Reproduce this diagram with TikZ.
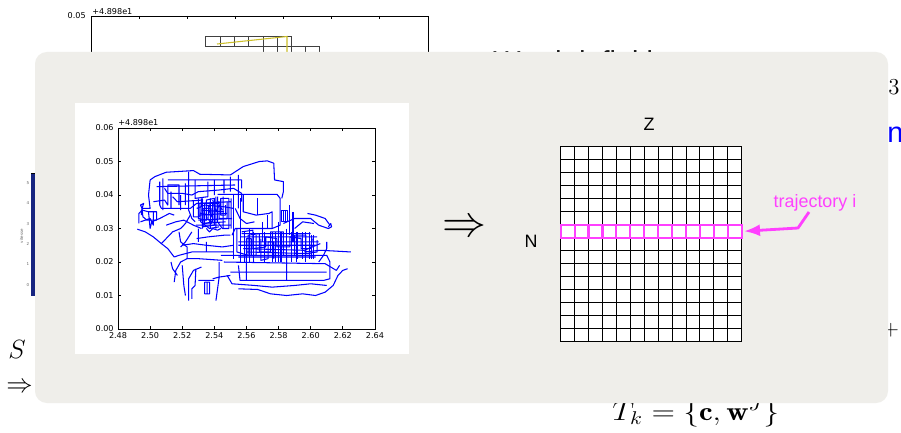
\RequirePackage{fix-cm}
\documentclass[tikz,border=0pt]{standalone}
\usepackage{fontspec}
\usepackage{graphicx}
\usetikzlibrary{arrows.meta}

\newfontfamily\arialfont{Liberation Sans}
\newfontfamily\mplfont{DejaVu Sans}

\definecolor{panelgray}{RGB}{239,238,234}
\definecolor{hotpink}{RGB}{255,64,255}
\definecolor{cbarblue}{RGB}{22,36,128}
\definecolor{pathyellow}{RGB}{204,190,40}
\definecolor{trajblue}{RGB}{0,0,255}

\newcommand{\titlefont}{\arialfont\fontsize{16.4}{19}\selectfont}
\newcommand{\labelfont}{\arialfont\fontsize{10.2}{12}\selectfont}
\newcommand{\mathfont}{\fontsize{15}{18}\selectfont}
\newcommand{\tickfont}{\mplfont\fontsize{4.6}{5.5}\selectfont}
\newcommand{\cbarfont}{\mplfont\fontsize{2.3}{3}\selectfont}

\tikzset{
  traj/.style={draw=trajblue, line width=0.6pt, line join=round},
  plotframe/.style={draw=black, line width=0.45pt},
  ticks/.style={draw=black, line width=0.4pt},
  ticklabel/.style={font=\tickfont, inner sep=0pt},
  gridline/.style={draw=black, line width=0.5pt},
  pinkrow/.style={draw=hotpink, line width=1.2pt},
  pinkarrow/.style={draw=hotpink, line width=1.6pt, line join=round, -{Latex[length=0.32cm,width=0.24cm]}},
}

\begin{document}
\begin{tikzpicture}[x=0.02cm,y=-0.02cm]
\useasboundingbox[fill=white] (0,0) rectangle (901,432);

% slide behind the overlay
\draw[plotframe] (91,120) -- (91,16) -- (428,16) -- (428,120);
\draw[ticks] (139,16) -- (139,19) (187,16) -- (187,19) (235,16) -- (235,19) (283,16) -- (283,19) (331,16) -- (331,19) (379,16) -- (379,19) (91,16) -- (94,16) (428,16) -- (425,16);
\node[ticklabel, anchor=east] (bgy05) at (86,16) {0.05};
\node[ticklabel, anchor=south west] (bgoffset) at (92,14.5) {+4.898e1};
\draw[black!75, line width=0.45pt] (205,36) rectangle (291,46) (263,46) rectangle (319,60);
\draw[black!75, line width=0.45pt] (220,36) -- (220,46) (234,36) -- (234,46) (248,36) -- (248,46) (263,36) -- (263,46) (277,36) -- (277,60) (291,46) -- (291,60) (305,46) -- (305,60);
\draw[pathyellow, line width=0.6pt] (217,44) -- (287,36.5) -- (287,60);

\node[font=\titlefont, anchor=base west, inner sep=0pt] (wordtitle) at (493,72) {Word definition};
\node[font=\fontsize{13}{15}\selectfont, anchor=base west, inner sep=0pt] (supthree) at (888,95) {3};
\node[font=\titlefont, text=trajblue, anchor=base west, inner sep=0pt] (bluen) at (887,142.5) {n};
\node[font=\fontsize{12}{14}\selectfont, inner sep=0pt] (plus) at (891,330) {$+$};
\node[font=\mathfont, anchor=base west, inner sep=0pt] (ssym) at (8,358.5) {$S$};
\node[font=\mathfont, anchor=base west, inner sep=0pt] (leftimp) at (6,392) {$\Rightarrow$};
\node[font=\mathfont, anchor=base west, inner sep=0pt] (tkset) at (612,420.5) {\scalebox{1.17}[1]{$T_k=\{\mathbf{c},\mathbf{w}^J\}$}};

\fill[cbarblue] (31,173) rectangle (38,296);
\draw[black, line width=0.3pt] (31,173) -- (38,173);
\node[font=\cbarfont, text=black!60, inner sep=0pt] (cbfive) at (28,183) {5};
\node[font=\cbarfont, text=black!60, inner sep=0pt] (cbfour) at (28,203) {4};
\node[font=\cbarfont, text=black!60, inner sep=0pt] (cbthree) at (28,224) {3};
\node[font=\cbarfont, text=black!60, inner sep=0pt] (cbtwo) at (28,244) {2};
\node[font=\cbarfont, text=black!60, inner sep=0pt] (cbone) at (28,264) {1};
\node[font=\cbarfont, text=black!60, inner sep=0pt] (cbzero) at (28,285) {0};
\node[font=\cbarfont, text=black!60, inner sep=0pt, rotate=90] (vitesse) at (21.5,236) {vitesse};

% overlay
\fill[panelgray, rounded corners=6.8pt] (35,52) rectangle (888,403);
\fill[white] (75,103) rectangle (408.5,353.5);

\begin{scope}[shift={(118,329)}, x=0.3212cm, y=0.67cm]
\draw[traj] (2.0,4.45) -- (2.3,4.55) -- (3.0,4.68) -- (4.7,4.73) -- (5.1,4.62) -- (7.0,4.6) -- (7.8,4.85) -- (8.8,5.0) -- (9.3,5.02) -- (9.7,4.95) -- (9.75,4.45) -- (10.3,4.4) -- (10.3,4.1) -- (10.2,3.9);
\draw[traj] (2.0,4.45) -- (1.9,4.0) -- (2.0,3.6) -- (1.5,3.6) -- (1.45,3.4);
\draw[traj] (2.6,4.4) -- (2.6,3.7) -- (2.7,3.6) -- (4.5,3.6) -- (4.9,3.75) -- (6.3,3.75);
\draw[traj] (2.9,4.2) -- (3.1,4.05) -- (4.0,4.05) -- (4.6,4.0) -- (5.0,4.1) -- (6.3,4.15) -- (7.2,4.2) -- (7.7,4.05) -- (7.7,3.8);
\draw[traj] (3.1,4.45) -- (7.7,4.45) -- (7.7,4.2) (4.4,4.7) -- (4.4,3.55) -- (4.6,3.3) -- (4.8,3.2) (3.4,3.95) -- (3.7,3.8) -- (5.3,3.85) (7.5,4.6) -- (7.5,3.6);
\draw[traj] (2.2,3.8) -- (2.9,3.85) -- (3.1,3.7) -- (3.1,4.3) -- (3.8,4.3) -- (3.8,3.7) (3.3,4.1) -- (3.3,3.6) (3.9,4.0) -- (3.9,3.55) (4.2,4.35) -- (4.2,3.7);
\draw[traj] (4.8,4.45) -- (4.8,3.9) -- (5.6,3.95) -- (5.6,4.4) (6.0,4.45) -- (6.0,4.0) (6.6,4.45) -- (6.6,4.05) (7.0,4.55) -- (7.0,4.1);
\draw[traj] (2.4,4.25) -- (7.3,4.3) (2.8,3.55) -- (2.8,4.5);
\draw[traj] (1.3,3.15) -- (1.3,3.45) -- (1.5,3.55) -- (1.9,3.5) -- (2.4,3.5) -- (2.4,3.25) -- (1.8,3.25) -- (1.55,3.35) -- (1.5,3.6) -- (1.6,3.75) -- (1.4,3.7) -- (1.5,3.6);
\draw[traj] (1.4,3.2) -- (2.0,3.3) -- (2.2,3.1) -- (2.2,3.5) (1.9,3.5) -- (2.0,3.0) -- (2.1,3.2) -- (2.6,3.3) -- (3.2,3.45) -- (3.5,3.4);
\draw[traj] (1.2,2.98) -- (1.7,2.9) -- (2.2,2.75) -- (2.7,2.55) -- (3.1,2.4) -- (3.5,2.15);
\draw[traj] (2.7,2.55) -- (3.0,2.7) -- (3.4,2.9) -- (3.9,3.0) -- (4.2,3.15) -- (4.5,3.4) (3.0,3.1) -- (3.6,3.2) -- (4.1,3.25) -- (4.7,3.1) -- (5.2,3.0);
\draw[traj] (5.0,3.9) -- (5.0,3.3) -- (5.5,3.25) -- (5.5,3.85) -- (6.0,3.9) -- (6.0,3.1) -- (5.3,3.05) -- (5.3,3.6) -- (5.8,3.6) -- (5.8,3.4) -- (5.1,3.45);
\draw[traj] (5.6,3.7) -- (5.7,3.5) -- (5.9,3.3) -- (5.8,3.15) -- (5.6,3.3) -- (5.65,3.6) -- (5.75,3.75);
\draw[traj] (6.2,3.95) -- (6.2,3.2) -- (6.5,3.0) -- (6.9,3.0) -- (6.9,3.9) -- (6.4,3.9) -- (6.4,3.4) -- (6.7,3.4) -- (6.7,3.7);
\draw[traj] (4.9,3.6) -- (5.4,3.7) -- (6.6,3.65) -- (7.2,3.6) (5.2,3.9) -- (5.15,3.2) -- (5.7,3.0) -- (6.3,3.05) (5.9,3.85) -- (6.1,3.5) -- (6.3,3.7) -- (6.5,3.55);
\draw[traj] (4.7,3.85) -- (4.7,3.35) -- (5.1,3.35) -- (5.1,3.75) -- (5.4,3.75) -- (5.4,3.15) -- (5.9,3.2) -- (5.9,3.75) -- (6.3,3.8) -- (6.3,3.3) -- (6.8,3.3) -- (6.8,3.8);
\draw[traj] (5.2,3.55) -- (6.6,3.5) (5.05,3.4) -- (6.8,3.45) (5.3,3.15) -- (6.7,3.2) (5.5,3.0) -- (5.7,2.9) -- (5.9,3.0) -- (6.2,2.95) -- (6.4,3.0);
\draw[traj] (4.95,3.75) -- (7.0,3.8) (5.0,3.25) -- (7.1,3.3) (4.85,3.1) -- (7.0,3.1) (5.25,3.9) -- (5.25,3.0) (5.75,3.9) -- (5.75,3.0) (6.1,3.95) -- (6.1,3.0) (6.55,3.95) -- (6.55,3.0) (7.05,3.9) -- (7.05,3.0);
\draw[traj] (6.2,4.02) -- (9.9,4.02) -- (10.1,3.9) -- (10.1,3.1) -- (9.6,3.0) -- (7.3,3.0) -- (7.1,2.8);
\draw[traj] (7.2,4.0) -- (7.2,2.1) (7.6,3.9) -- (7.6,2.0) (8.7,3.9) -- (8.7,3.4) (9.0,3.2) -- (9.0,2.6) (9.3,3.4) -- (9.3,3.0);
\draw[traj] (7.8,4.0) -- (7.8,3.5) -- (8.6,3.4) -- (9.4,3.45) -- (9.6,3.5) -- (9.6,3.0) (7.3,3.6) -- (7.6,3.3) -- (8.0,3.15) -- (8.5,3.2);
\draw[traj] (7.4,3.0) -- (7.4,2.3) -- (8.1,2.2) -- (8.1,2.8) -- (8.8,2.85) -- (8.8,2.3) -- (9.5,2.3) -- (9.5,2.9) -- (10.3,2.9) -- (10.3,2.2) -- (11.0,2.2) -- (11.0,2.8) -- (11.7,2.8) -- (11.7,2.25) -- (12.4,2.3) -- (12.4,2.65);
\draw[traj] (7.7,2.9) -- (8.4,2.95) -- (8.4,2.4) -- (9.2,2.45) -- (9.2,2.75) -- (9.9,2.7) -- (9.9,2.45) -- (10.7,2.45) -- (10.7,2.75) -- (11.4,2.7) -- (11.4,2.4) -- (12.0,2.4) -- (12.1,2.7);
\draw[traj] (7.5,2.6) -- (12.5,2.6) (7.8,2.4) -- (11.6,2.35) -- (12.6,2.55) (7.6,2.75) -- (12.4,2.75) (7.5,2.5) -- (12.3,2.5) (8.0,2.3) -- (12.0,2.25) (7.5,2.15) -- (12.3,2.15) (7.7,2.85) -- (12.0,2.85);
\draw[traj] (8.0,2.1) -- (8.0,2.7) -- (8.3,2.7) -- (8.3,2.2) -- (8.6,2.2) -- (8.6,2.8) (8.9,2.7) -- (8.9,2.05) -- (9.35,2.1) -- (9.35,2.6) -- (9.7,2.6) -- (9.7,2.1);
\draw[traj] (10.0,3.2) -- (10.0,2.0) (10.5,3.0) -- (10.5,2.0) (11.2,2.9) -- (11.2,2.1) (11.9,2.9) -- (11.9,2.1);
\draw[traj] (8.2,3.0) -- (8.2,2.0) (9.1,2.9) -- (9.1,2.0) (9.8,2.9) -- (9.8,2.0) (10.8,2.9) -- (10.8,2.0) (11.5,2.9) -- (11.5,2.1) (12.2,2.8) -- (12.2,2.1) (10.7,3.7) -- (10.7,2.8) (10.9,3.5) -- (10.9,2.6);
\draw[traj] (7.9,2.9) -- (7.9,2.0) (8.45,2.9) -- (8.45,2.0) (9.6,2.9) -- (9.6,2.0) (10.15,2.9) -- (10.15,2.0) (11.1,2.9) -- (11.1,2.0) (11.65,2.9) -- (11.65,2.0) (12.05,2.8) -- (12.05,2.1);
\draw[traj] (10.2,3.55) rectangle (10.55,3.2) (10.3,3.55) -- (10.3,3.2) (10.45,3.55) -- (10.45,3.2);
\draw[traj] (10.3,3.15) -- (11.0,3.3) -- (12.0,3.3) -- (12.5,3.1) -- (12.8,3.05) -- (13.1,3.0) -- (13.3,3.05) -- (13.25,3.15) -- (13.1,3.05) (11.0,3.0) -- (11.5,3.2) -- (12.2,3.15);
\draw[traj] (6.4,2.2) -- (13.0,2.2) -- (13.2,2.0) -- (13.2,1.5) -- (12.8,1.45) -- (7.6,1.45) -- (7.5,1.9);
\draw[traj] (6.6,2.0) -- (12.9,1.95) -- (13.6,1.75) -- (13.8,1.9) (7.0,1.7) -- (13.0,1.7) (8.0,1.45) -- (8.0,2.2) (10.5,1.45) -- (10.5,2.2);
\draw[traj] (6.8,1.6) -- (7.1,1.35) -- (8.5,1.3) -- (9.6,1.25) -- (11.0,1.3) -- (12.0,1.35) -- (13.0,1.3);
\draw[traj] (7.5,1.2) -- (8.7,1.18) -- (9.5,1.05) -- (10.5,1.0) -- (11.5,1.05) -- (12.3,1.0) -- (12.9,1.1) -- (13.4,1.3) -- (13.7,1.6) -- (14.0,1.75) -- (14.3,1.8);
\draw[traj] (11.6,2.3) -- (12.6,2.35) -- (13.4,2.33) -- (14.5,2.3) (12.5,2.0) -- (12.8,2.2) -- (13.0,2.4) -- (13.0,2.6) (11.8,3.45) -- (12.3,3.4) -- (12.9,3.3) -- (13.2,3.1);
\draw[traj] (3.5,2.15) -- (3.8,2.2) -- (4.2,2.25) -- (4.6,2.3) -- (5.2,2.3) -- (6.2,2.3) -- (7.2,2.3) (4.0,2.5) -- (4.7,2.55) -- (5.5,2.5) -- (6.5,2.45) -- (7.2,2.5);
\draw[traj] (3.5,1.4) -- (3.6,1.75) -- (3.9,2.0) -- (4.3,2.1) -- (5.0,2.1) -- (6.5,2.05);
\draw[traj] (4.4,0.85) -- (4.4,1.5) -- (4.7,1.75) -- (5.2,1.85) (4.6,0.9) -- (4.6,1.2) -- (4.8,1.3) -- (4.85,1.8);
\draw[traj] (5.4,1.05) rectangle (5.7,1.4) (5.55,1.05) -- (5.55,1.4) (6.1,0.85) -- (6.2,1.2) -- (6.3,1.55) -- (6.3,2.0) (5.9,1.5) -- (6.3,1.55) -- (7.0,1.6);
\draw[traj] (3.9,2.45) -- (4.2,2.6) -- (4.6,2.9) (5.0,2.6) -- (5.0,3.0) (5.5,2.3) -- (5.5,2.6) (5.0,1.45) -- (6.0,1.45);
\draw[traj] (3.3,2.0) -- (3.4,1.8) -- (3.7,1.6) (4.0,1.9) -- (4.1,1.3) -- (4.2,1.0) (4.9,2.7) -- (5.6,2.75) -- (6.6,2.8) -- (7.0,2.8) (3.8,2.9) -- (3.9,2.6) -- (4.3,2.45) -- (4.3,2.1);

\draw[plotframe] (0,0) rectangle (16,6);
\draw[ticks] (2,0) -- (2,0.09) (4,0) -- (4,0.09) (6,0) -- (6,0.09) (8,0) -- (8,0.09) (10,0) -- (10,0.09) (12,0) -- (12,0.09) (14,0) -- (14,0.09);
\draw[ticks] (2,6) -- (2,5.91) (4,6) -- (4,5.91) (6,6) -- (6,5.91) (8,6) -- (8,5.91) (10,6) -- (10,5.91) (12,6) -- (12,5.91) (14,6) -- (14,5.91);
\draw[ticks] (0,1) -- (0.19,1) (0,2) -- (0.19,2) (0,3) -- (0.19,3) (0,4) -- (0.19,4) (0,5) -- (0.19,5);
\draw[ticks] (16,1) -- (15.81,1) (16,2) -- (15.81,2) (16,3) -- (15.81,3) (16,4) -- (15.81,4) (16,5) -- (15.81,5);
\node[ticklabel, anchor=north] (xa) at (0,-0.1) {2.48};
\node[ticklabel, anchor=north] (xb) at (2,-0.1) {2.50};
\node[ticklabel, anchor=north] (xc) at (4,-0.1) {2.52};
\node[ticklabel, anchor=north] (xd) at (6,-0.1) {2.54};
\node[ticklabel, anchor=north] (xe) at (8,-0.1) {2.56};
\node[ticklabel, anchor=north] (xf) at (10,-0.1) {2.58};
\node[ticklabel, anchor=north] (xg) at (12,-0.1) {2.60};
\node[ticklabel, anchor=north] (xh) at (14,-0.1) {2.62};
\node[ticklabel, anchor=north] (xi) at (16,-0.1) {2.64};
\node[ticklabel, anchor=east] (ya) at (-0.25,0) {0.00};
\node[ticklabel, anchor=east] (yb) at (-0.25,1) {0.01};
\node[ticklabel, anchor=east] (yc) at (-0.25,2) {0.02};
\node[ticklabel, anchor=east] (yd) at (-0.25,3) {0.03};
\node[ticklabel, anchor=east] (ye) at (-0.25,4) {0.04};
\node[ticklabel, anchor=east] (yf) at (-0.25,5) {0.05};
\node[ticklabel, anchor=east] (yg) at (-0.25,6) {0.06};
\node[ticklabel, anchor=south west] (offset) at (0,6.05) {+4.898e1};
\end{scope}

\node[font=\fontsize{25}{30}\selectfont, inner sep=0pt] (implies) at (464,228) {$\Rightarrow$};

\begin{scope}[shift={(560.7,341.7)}, x=0.2784cm, y=0.26cm]
\fill[white] (0,0) rectangle (13,15);
\draw[gridline] (0,0) grid[xstep=0.2784cm, ystep=0.26cm] (13,15);
\draw[gridline] (0,0) rectangle (13,15);
\draw[pinkrow] (0,8) grid[xstep=0.2784cm, ystep=10cm] (13,9);
\draw[pinkrow] (0,8) rectangle (13,9);
\coordinate (rowend) at (13.17,8.5);
\end{scope}

\node[font=\labelfont, inner sep=0pt] (zlbl) at (649,124.5) {Z};
\node[font=\labelfont, inner sep=0pt] (nlbl) at (531,241) {N};
\node[font=\labelfont, text=hotpink, anchor=base, inner sep=0pt] (trajlbl) at (815,207) {trajectory i};
\coordinate (bend) at (798,228);
\draw[pinkarrow] ([shift={(-6,5)}]trajlbl.base) -- (bend) -- (rowend);

\end{tikzpicture}
\end{document}
